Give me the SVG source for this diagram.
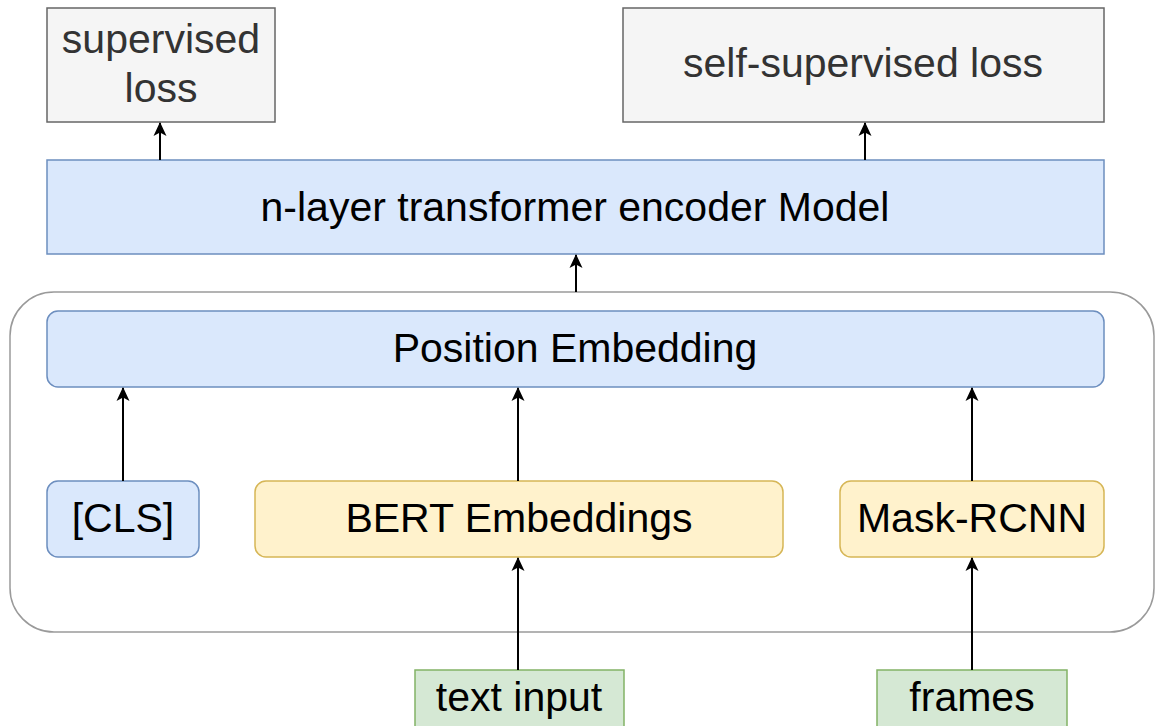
<svg xmlns="http://www.w3.org/2000/svg" width="1156" height="726" viewBox="0 0 1156 726">
  <style>
    .lbl { font-family: "Liberation Sans", Arial, Helvetica, sans-serif; font-size: 41px; text-anchor: middle; fill: #000; }
    .grey-txt { fill: #333333; }
    .loss { fill: #f5f5f5; stroke: #666666; stroke-width: 1.5; }
    .blue { fill: #dae8fc; stroke: #6c8ebf; stroke-width: 1.5; }
    .yellow { fill: #fff2cc; stroke: #d6b656; stroke-width: 1.5; }
    .green { fill: #d5e8d4; stroke: #82b366; stroke-width: 1.5; }
    .frame { fill: none; stroke: #9a9a9a; stroke-width: 1.5; }
    .edge { stroke: #000; stroke-width: 2; fill: none; marker-end: url(#head); }
  </style>
  <defs>
    <!-- block arrowhead with a slight notch -->
    <marker id="head" viewBox="0 0 14 14" refX="13" refY="7" markerWidth="14" markerHeight="14" markerUnits="userSpaceOnUse" orient="auto">
      <path d="M0,0.5 L14,7 L0,13.5 L3.5,7 Z" fill="#000"/>
    </marker>
  </defs>
  <rect width="1156" height="726" fill="#fff"/>

  <!-- embedding container -->
  <g id="embedding-group">
    <rect class="frame" x="10" y="292" width="1144" height="340" rx="44" ry="44"/>
  </g>

  <g id="supervised-loss">
    <rect class="loss" x="47" y="8" width="228" height="114"/>
    <text class="lbl grey-txt" x="161" y="53">supervised</text>
    <text class="lbl grey-txt" x="161" y="102">loss</text>
  </g>

  <g id="self-supervised-loss">
    <rect class="loss" x="623" y="8" width="481" height="114"/>
    <text class="lbl grey-txt" x="863" y="77">self-supervised loss</text>
  </g>

  <g id="transformer">
    <rect class="blue" x="47" y="160" width="1057" height="94"/>
    <text class="lbl" x="575" y="221">n-layer transformer encoder Model</text>
  </g>

  <g id="position-embedding">
    <rect class="blue" x="47" y="311" width="1057" height="76" rx="11" ry="11"/>
    <text class="lbl" x="575" y="362">Position Embedding</text>
  </g>

  <g id="cls">
    <rect class="blue" x="47" y="481" width="152" height="76" rx="11" ry="11"/>
    <text class="lbl" x="123" y="532">[CLS]</text>
  </g>

  <g id="bert">
    <rect class="yellow" x="255" y="481" width="528" height="76" rx="11" ry="11"/>
    <text class="lbl" x="519" y="532">BERT Embeddings</text>
  </g>

  <g id="mask-rcnn">
    <rect class="yellow" x="840" y="481" width="264" height="76" rx="11" ry="11"/>
    <text class="lbl" x="972" y="532">Mask-RCNN</text>
  </g>

  <g id="text-input">
    <rect class="green" x="415" y="670" width="209" height="70"/>
    <text class="lbl" x="519" y="711">text input</text>
  </g>

  <g id="frames">
    <rect class="green" x="877" y="670" width="190" height="70"/>
    <text class="lbl" x="972" y="711">frames</text>
  </g>

  <g id="connectors">
    <line class="edge" x1="160" y1="160" x2="160" y2="123"/>
    <line class="edge" x1="865" y1="160" x2="865" y2="123"/>
    <line class="edge" x1="576" y1="292" x2="576" y2="255"/>
    <line class="edge" x1="123" y1="481" x2="123" y2="388"/>
    <line class="edge" x1="518" y1="481" x2="518" y2="388"/>
    <line class="edge" x1="972" y1="481" x2="972" y2="388"/>
    <line class="edge" x1="518" y1="670" x2="518" y2="558"/>
    <line class="edge" x1="972" y1="670" x2="972" y2="558"/>
  </g>
</svg>
